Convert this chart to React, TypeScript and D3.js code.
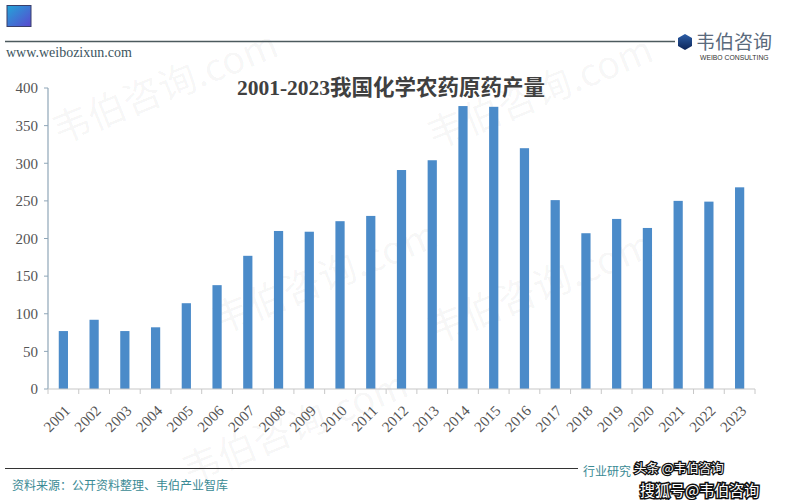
import React from "react";
import * as d3 from "d3";

const years = ["2001","2002","2003","2004","2005","2006","2007","2008","2009","2010","2011","2012","2013","2014","2015","2016","2017","2018","2019","2020","2021","2022","2023"];
const production = [77, 92, 77, 82, 114, 138, 177, 210, 209, 223, 230, 291, 304, 376, 375, 320, 251, 207, 226, 214, 250, 249, 268];
const yTicks = [0, 50, 100, 150, 200, 250, 300, 350, 400];
const title = "2001-2023我国化学农药原药产量";
const source = "资料来源：公开资料整理、韦伯产业智库";

const W = 791, H = 500;
const M = { left: 48, right: 755, top: 88, bottom: 389 };

export default function App() {
  const x = d3.scaleBand<string>().domain(years).range([M.left, M.right]).paddingInner(0.7).paddingOuter(0.35);
  const xb = d3.scaleBand<string>().domain(years).range([M.left, M.right]);
  const y = d3.scaleLinear().domain([0, 400]).range([M.bottom, M.top]);
  const serif = "'Liberation Serif','DejaVu Serif',serif";
  const cjk = "'Noto Sans CJK SC',sans-serif";
  const marks = [
    { x: 170, y: 100 }, { x: 545, y: 105 }, { x: 330, y: 290 }, { x: 545, y: 300 }, { x: 300, y: 440 },
  ];
  return (
    <svg width={W} height={H} style={{ position: "absolute", left: 0, top: 0, background: "#fff" }}>
      <defs>
        <linearGradient id="sq" x1="0" y1="0" x2="1" y2="1">
          <stop offset="0" stopColor="#22a6d8" />
          <stop offset="1" stopColor="#5a48cf" />
        </linearGradient>
        <linearGradient id="hex" x1="0" y1="0" x2="0" y2="1">
          <stop offset="0" stopColor="#2d5fa8" />
          <stop offset="1" stopColor="#0d2457" />
        </linearGradient>
      </defs>
      <rect x={0} y={0} width={W} height={H} fill="#fff" />
      {/* watermarks */}
      {marks.map((m, i) => (
        <text key={i} transform={`translate(${m.x},${m.y}) rotate(-22)`} textAnchor="middle" fontFamily={cjk} fontSize={38} fill="#000" fillOpacity={0.045}>韦伯咨询.com</text>
      ))}
      {/* header */}
      <rect x={7} y={5.5} width={24} height={21} fill="url(#sq)" stroke="#3a3f6a" strokeWidth={1} />
      <line x1={5} x2={675} y1={41.5} y2={41.5} stroke="#4c5a5e" strokeWidth={1.5} />
      <text x={6} y={57} fontFamily={serif} fontSize={14} fill="#3c5560">www.weibozixun.com</text>
      <polygon points="685,34 692,38 692,46 685,50 678,46 678,38" fill="url(#hex)" />
      <text x={696} y={49} fontFamily={cjk} fontSize={19} fill="#5a6a7c">韦伯咨询</text>
      <text x={700} y={60} fontFamily="'Liberation Sans',Arial,sans-serif" fontSize={6.8} fill="#333">WEIBO CONSULTING</text>
      {/* title */}
      <text x={391} y={95} textAnchor="middle" fontFamily={serif + "," + cjk} fontWeight="bold" fontSize={21.5} fill="#404040">{title}</text>
      {/* y axis */}
      <line x1={M.left} x2={M.left} y1={M.top} y2={M.bottom} stroke="#8fa6b8" strokeWidth={1.2} />
      {yTicks.map(t => (
        <g key={t}>
          <line x1={M.left - 4} x2={M.left} y1={y(t)} y2={y(t)} stroke="#8fa6b8" />
          <text x={M.left - 10} y={y(t)} dy="0.35em" textAnchor="end" fontFamily={serif} fontSize={15} fill="#555">{t}</text>
        </g>
      ))}
      {/* bars */}
      {years.map((yr, i) => (
        <rect key={yr} x={x(yr)} y={y(production[i])} width={x.bandwidth()} height={M.bottom - y(production[i])} fill="#4b8bc9" />
      ))}
      {/* x axis */}
      <line x1={M.left} x2={M.right} y1={M.bottom} y2={M.bottom} stroke="#c8c8c8" strokeWidth={1.2} />
      {[...years.map(yr => xb(yr) as number), M.right].map((v, i) => (
        <line key={i} x1={v} x2={v} y1={M.bottom} y2={M.bottom + 5} stroke="#c8c8c8" />
      ))}
      {years.map(yr => {
        const cx = (xb(yr) as number) + xb.bandwidth() / 2 + 4;
        return (
          <text key={yr} transform={`translate(${cx},${M.bottom + 19}) rotate(-45)`} textAnchor="end" dy="0.35em" fontFamily={serif} fontSize={15} fill="#555">{yr}</text>
        );
      })}
      {/* footer */}
      <line x1={5} x2={578} y1={468.5} y2={468.5} stroke="#333" strokeWidth={1.2} />
      <text x={12} y={490} fontFamily={cjk} fontSize={12} fill="#3a8a94">{source}</text>
      <text x={583} y={476} fontFamily={cjk} fontSize={12} fill="#3a8a94">行业研究</text>
      <text x={634} y={473} fontFamily={cjk} fontSize={12.5} fill="#fff" stroke="#111" strokeWidth={2.5} paintOrder="stroke">头条 @韦伯咨询</text>
      <text x={640} y={496} fontFamily={cjk} fontSize={15} fill="#fff" stroke="#111" strokeWidth={3} paintOrder="stroke">搜狐号@韦伯咨询</text>
    </svg>
  );
}
